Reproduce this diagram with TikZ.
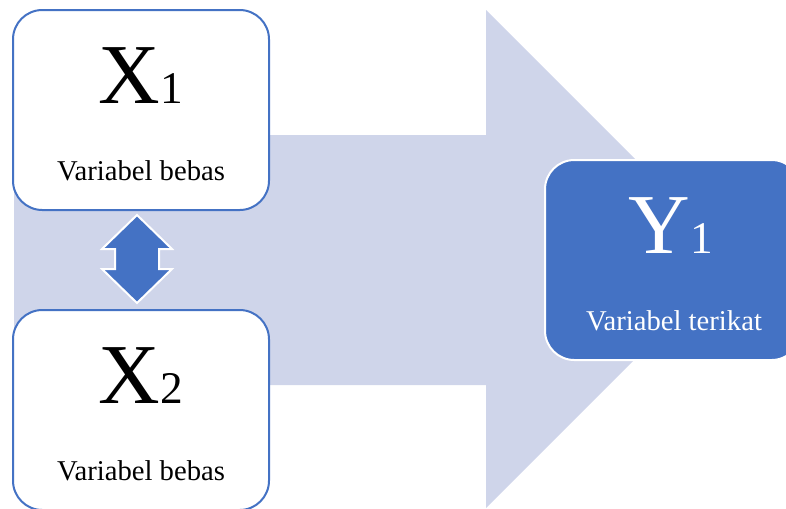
\documentclass[tikz,border=0pt]{standalone}
\usepackage{fontspec}
\setmainfont{Liberation Serif}
\usepackage{tikz}
\definecolor{primary}{RGB}{68, 114, 196}
\definecolor{arrowback}{RGB}{207, 213, 234}

\tikzset{
  varbox/.style = {
    draw        = primary,
    line width  = 1.5pt,
    fill        = white,
    rounded corners = 22pt,
    minimum width   = 192pt,
    minimum height  = 150pt,
    inner sep   = 0pt
  },
  depbox/.style = {
    varbox,
    draw        = white,
    fill        = primary
  },
  bigname/.style = {
    anchor      = base,
    inner sep   = 0pt,
    font        = \fontsize{64}{64}\selectfont
  },
  vardesc/.style = {
    anchor      = base,
    inner sep   = 0pt,
    font        = \fontsize{21.5}{24}\selectfont
  },
  backarrow/.style = {
    fill        = arrowback
  },
  linkarrow/.style = {
    fill        = primary,
    draw        = white,
    line width  = 1.5pt,
    line join   = miter
  }
}

\begin{document}
\begin{tikzpicture}[x=0.75pt, y=-0.75pt]
  \useasboundingbox (0,0) rectangle (786,508);

  \path[backarrow] (14,135) -- (486,135) -- (486,10) -- (735,259)
    -- (486,508) -- (486,385) -- (14,385) -- cycle;

  \node[varbox] (x1) at (141,110) {};
  \node[varbox] (x2) at (141,410) {};
  \node[depbox] (y1) at (673,260) {};

  \node[bigname] (x1name) at (141,103) {X{\fontsize{34}{34}\selectfont 1}};
  \node[vardesc] (x1desc) at (141,180) {Variabel bebas};

  \node[bigname] (x2name) at (141,403) {X{\fontsize{34}{34}\selectfont 2}};
  \node[vardesc] (x2desc) at (141,480) {Variabel bebas};

  \node[bigname, text=white] (y1name) at (671,253) {Y{\fontsize{34}{34}\selectfont 1}};
  \node[vardesc, text=white] (y1desc) at (674,330) {Variabel terikat};

  \draw[linkarrow] (137,215) -- (172,249) -- (159,249) -- (159,269)
    -- (172,269) -- (137,303) -- (102,269) -- (115,269) -- (115,249)
    -- (102,249) -- cycle;
\end{tikzpicture}
\end{document}
